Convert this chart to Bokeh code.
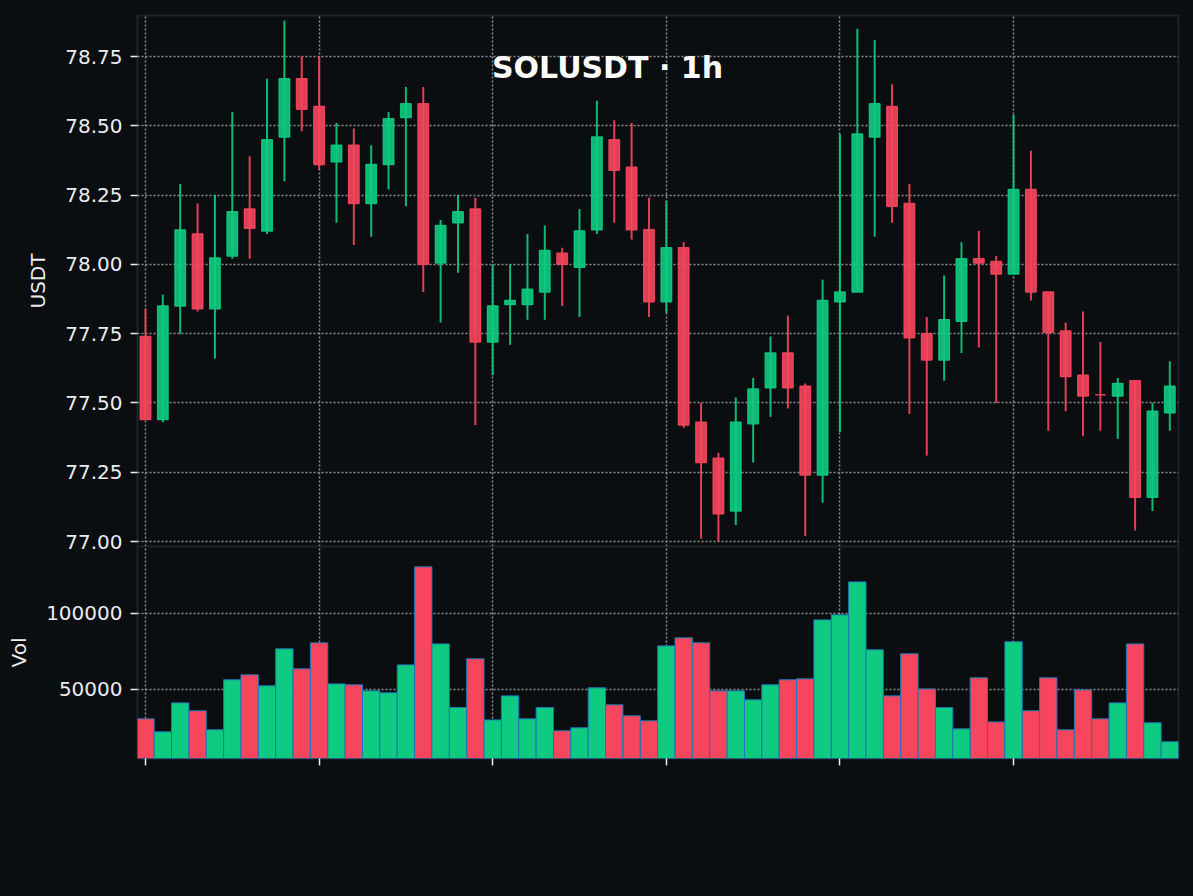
from bokeh.embed import file_html
from bokeh.layouts import column
from bokeh.models import (ColumnDataSource, FixedTicker, Label, NumeralTickFormatter,
                          PrintfTickFormatter, Range1d)
from bokeh.plotting import figure
from bokeh.resources import INLINE

opens = [77.74, 77.44, 77.85, 78.11, 77.84, 78.03, 78.20, 78.12, 78.46, 78.67,
         78.57, 78.37, 78.43, 78.22, 78.36, 78.53, 78.58, 78.005, 78.15, 78.20,
         77.72, 77.855, 77.855, 77.90, 78.04, 77.99, 78.125, 78.45, 78.35, 78.125,
         77.865, 78.06, 77.43, 77.30, 77.11, 77.425, 77.555, 77.68, 77.56, 77.24,
         77.865, 77.90, 78.46, 78.57, 78.22, 77.75, 77.655, 77.795, 78.02, 78.01,
         77.965, 78.27, 77.90, 77.76, 77.60, 77.53, 77.525, 77.58, 77.16, 77.465]
highs = [77.84, 77.89, 78.29, 78.22, 78.25, 78.55, 78.39, 78.67, 78.88, 78.75,
         78.75, 78.51, 78.49, 78.43, 78.55, 78.64, 78.64, 78.16, 78.25, 78.24,
         78.00, 78.00, 78.11, 78.14, 78.06, 78.20, 78.59, 78.52, 78.51, 78.24,
         78.23, 78.08, 77.50, 77.32, 77.52, 77.59, 77.74, 77.815, 77.57, 77.945,
         78.47, 78.85, 78.81, 78.65, 78.29, 77.81, 77.96, 78.08, 78.12, 78.03,
         78.54, 78.41, 77.90, 77.79, 77.83, 77.72, 77.59, 77.58, 77.50, 77.65]
lows = [77.44, 77.43, 77.75, 77.83, 77.66, 78.02, 78.02, 78.11, 78.30, 78.48,
        78.34, 78.15, 78.07, 78.10, 78.27, 78.21, 77.90, 77.79, 77.97, 77.42,
        77.60, 77.71, 77.80, 77.80, 77.85, 77.81, 78.11, 78.15, 78.09, 77.81,
        77.825, 77.41, 77.01, 77.00, 77.06, 77.285, 77.45, 77.48, 77.02, 77.14,
        77.395, 77.90, 78.10, 78.15, 77.46, 77.31, 77.58, 77.68, 77.70, 77.50,
        77.965, 77.87, 77.40, 77.47, 77.38, 77.40, 77.37, 77.04, 77.11, 77.40]
closes = [77.44, 77.85, 78.124, 77.84, 78.023, 78.19, 78.13, 78.45, 78.67, 78.56,
          78.36, 78.43, 78.22, 78.36, 78.525, 78.58, 78.00, 78.14, 78.19, 77.72,
          77.85, 77.87, 77.91, 78.05, 78.00, 78.12, 78.46, 78.34, 78.125, 77.865,
          78.06, 77.42, 77.285, 77.10, 77.43, 77.55, 77.68, 77.555, 77.24, 77.87,
          77.90, 78.47, 78.58, 78.21, 77.735, 77.655, 77.80, 78.02, 78.005, 77.965,
          78.27, 77.90, 77.755, 77.595, 77.525, 77.53, 77.57, 77.16, 77.47, 77.56]
volumes = [30700, 22150, 41200, 36000, 23500, 56400, 59650, 52400, 76750, 63600,
           80700, 53700, 53100, 49100, 47800, 66200, 130700, 80000, 38150, 70200,
           30000, 45800, 30700, 38150, 22800, 24800, 51100, 39900, 32700, 29400,
           78700, 84000, 80700, 49100, 49100, 43200, 53100, 56400, 57000, 95800,
           99100, 120800, 76100, 45800, 73500, 50400, 38150, 24100, 57700, 28700,
           81400, 36000, 57700, 23500, 49800, 30700, 41200, 80000, 28100, 15600]
x_tick_index = [0, 10, 20, 30, 40, 50]
x_tick_labels = ["Jul 20, 22:00", "Jul 21, 08:00", "Jul 21, 18:00",
                 "Jul 22, 04:00", "Jul 22, 14:00", "Jul 23, 00:00"]
price_ticks = [77.00, 77.25, 77.50, 77.75, 78.00, 78.25, 78.50, 78.75]
volume_ticks = [50000, 100000]
title_text = "SOLUSDT · 1h"
watermark_text = "@ CoinBatmi"

BG = "#0b0e11"
UP = "#0ecb81"
DOWN = "#f6465d"
TEXT = "#eaecef"
SPINE = "#1e2329"
GRID = "#8c8c8c"

idx = list(range(len(opens)))
colors = [UP if c > o else DOWN for o, c in zip(opens, closes)]
source = ColumnDataSource(dict(x=idx, open=opens, high=highs, low=lows, close=closes,
                               volume=volumes, color=colors))
xr = Range1d(-0.46, 59.5)


def style(p, ticks, label, standoff):
    p.background_fill_color = BG
    p.outline_line_color = SPINE
    p.outline_line_width = 2
    for g in (p.xgrid, p.ygrid):
        g.grid_line_color = GRID
        g.grid_line_width = 1.5
        g.grid_line_dash = "2 2"
    p.xgrid.ticker = FixedTicker(ticks=x_tick_index)
    p.ygrid.ticker = FixedTicker(ticks=ticks)
    ax = p.yaxis[0]
    ax.ticker = FixedTicker(ticks=ticks)
    ax.axis_line_color = None
    ax.major_tick_line_color = TEXT
    ax.major_tick_line_width = 1.5
    ax.major_tick_in = 0
    ax.major_tick_out = 7
    ax.minor_tick_line_color = None
    ax.major_label_text_color = TEXT
    ax.major_label_text_font = "DejaVu Sans"
    ax.major_label_text_font_size = "20px"
    ax.major_label_standoff = 8
    ax.axis_label = label
    ax.axis_label_text_color = TEXT
    ax.axis_label_text_font = "DejaVu Sans"
    ax.axis_label_text_font_size = "20px"
    ax.axis_label_text_font_style = "normal"
    ax.axis_label_standoff = standoff


p1 = figure(width=1193, height=556, x_range=xr, y_range=Range1d(76.982, 78.898),
            output_backend="svg", toolbar_location=None, border_fill_color=BG,
            min_border_left=137, min_border_right=15, min_border_top=15, min_border_bottom=10)
style(p1, price_ticks, "USDT", 12)
p1.yaxis[0].formatter = PrintfTickFormatter(format="%.2f")
p1.xaxis.visible = False
p1.segment("x", "low", "x", "high", source=source, line_color="color", line_width=2, line_alpha=0.9)
p1.vbar("x", 0.6, "open", "close", source=source, fill_color="color", line_color="color",
        fill_alpha=0.9, line_alpha=0.9, line_width=1.5)
p1.add_layout(Label(x=607, y=67, x_units="canvas", y_units="canvas", text=title_text,
                    text_color="#ffffff", text_font="DejaVu Sans", text_font_size="30px",
                    text_font_style="bold", text_align="center", text_baseline="middle"))

p2 = figure(width=1193, height=350, x_range=xr, y_range=Range1d(4605, 144078),
            output_backend="svg", toolbar_location=None, border_fill_color=None,
            min_border_left=137, min_border_right=15, min_border_top=0, min_border_bottom=138,
            margin=(-10, 0, 0, 0))
style(p2, volume_ticks, "Vol", 12)
p2.yaxis[0].formatter = NumeralTickFormatter(format="0")
p2.vbar("x", 1.0, "volume", 0, source=source, fill_color="color", line_color="#1f77b4", line_width=1)
bx = p2.xaxis[0]
bx.ticker = FixedTicker(ticks=x_tick_index)
bx.major_label_overrides = {i: "" for i in x_tick_index}
bx.axis_line_color = None
bx.major_tick_line_color = TEXT
bx.major_tick_line_width = 1.5
bx.major_tick_in = 0
bx.major_tick_out = 7
bx.minor_tick_line_color = None

# four placements of the same test: data x, screen y; overlay level
for i, t in zip(x_tick_index, x_tick_labels):
    p2.add_layout(Label(x=i, y=281, x_units="data", y_units="canvas", text=t, angle=45,
                        angle_units="deg", text_color=TEXT, text_font="DejaVu Sans",
                        text_font_size="20px", text_align="center", text_baseline="middle",
                        level="overlay"))

p2.add_layout(Label(x=1043, y=324, x_units="canvas", y_units="canvas", text=watermark_text,
                    text_color="#b4b4b4", text_font="Noto Sans", text_font_size="23px",
                    text_align="left", text_baseline="middle", level="overlay"))

layout = column(p1, p2, spacing=0)
html = file_html(layout, INLINE)
html = html.replace("<head>", f"<head><style>html,body{{background:{BG};}}</style>", 1)
open("out.html", "w").write(html)
